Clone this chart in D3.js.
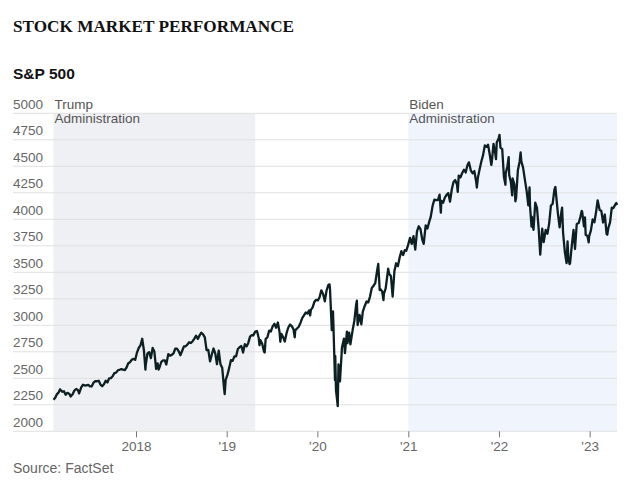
<!DOCTYPE html>
<html>
<head>
<meta charset="utf-8">
<script src="https://cdn.jsdelivr.net/npm/d3@7"></script>
<style>
  html, body { margin: 0; padding: 0; background: #fff; }
  svg { display: block; }
</style>
</head>
<body>
<svg id="chart" width="636" height="496"></svg>
<script>
const titleText = "STOCK MARKET PERFORMANCE";
const subtitleText = "S&P 500";
const sourceText = "Source: FactSet";

const yTicks = [2000, 2250, 2500, 2750, 3000, 3250, 3500, 3750, 4000, 4250, 4500, 4750, 5000];
const xTickDates = ["2018-01-01", "2019-01-01", "2020-01-01", "2021-01-01", "2022-01-01", "2023-01-01"];
const xTickLabels = ["2018", "'19", "'20", "'21", "'22", "'23"];

const periods = [
  { label: ["Trump", "Administration"], start: "2017-02-03", end: "2019-04-26", fill: "#eff0f3" },
  { label: ["Biden", "Administration"], start: "2021-01-01", end: "2023-04-21", fill: "#f0f5fd" }
];

const dates = [
"2017-02-03","2017-02-10","2017-02-17","2017-02-24","2017-03-01","2017-03-10","2017-03-17","2017-03-24","2017-03-31","2017-04-07","2017-04-13","2017-04-21","2017-04-28","2017-05-05","2017-05-12","2017-05-17","2017-05-26","2017-06-02","2017-06-09","2017-06-16","2017-06-23","2017-06-30","2017-07-07","2017-07-14","2017-07-21","2017-07-28","2017-08-04","2017-08-11","2017-08-18","2017-08-25","2017-09-01","2017-09-08","2017-09-15","2017-09-22","2017-09-29","2017-10-06","2017-10-13","2017-10-20","2017-10-27","2017-11-03","2017-11-10","2017-11-17","2017-11-24","2017-12-01","2017-12-08","2017-12-15","2017-12-22","2017-12-29",
"2018-01-05","2018-01-12","2018-01-19","2018-01-26","2018-02-02","2018-02-08","2018-02-09","2018-02-16","2018-02-23","2018-03-02","2018-03-09","2018-03-16","2018-03-23","2018-03-29","2018-04-02","2018-04-06","2018-04-13","2018-04-20","2018-04-27","2018-05-03","2018-05-11","2018-05-18","2018-05-25","2018-06-01","2018-06-08","2018-06-15","2018-06-22","2018-06-29","2018-07-06","2018-07-13","2018-07-20","2018-07-27","2018-08-03","2018-08-10","2018-08-17","2018-08-24","2018-08-31","2018-09-07","2018-09-14","2018-09-21","2018-09-28","2018-10-05","2018-10-12","2018-10-19","2018-10-26","2018-11-02","2018-11-09","2018-11-16","2018-11-23","2018-11-30","2018-12-07","2018-12-14","2018-12-21","2018-12-24","2018-12-28",
"2019-01-04","2019-01-11","2019-01-18","2019-01-25","2019-02-01","2019-02-08","2019-02-15","2019-02-22","2019-03-01","2019-03-08","2019-03-15","2019-03-22","2019-03-29","2019-04-05","2019-04-12","2019-04-18","2019-04-26","2019-05-03","2019-05-10","2019-05-13","2019-05-17","2019-05-24","2019-05-31","2019-06-03","2019-06-07","2019-06-14","2019-06-21","2019-06-28","2019-07-05","2019-07-12","2019-07-19","2019-07-26","2019-08-02","2019-08-05","2019-08-09","2019-08-16","2019-08-23","2019-08-30","2019-09-06","2019-09-13","2019-09-20","2019-09-27","2019-10-02","2019-10-04","2019-10-11","2019-10-18","2019-10-25","2019-11-01","2019-11-08","2019-11-15","2019-11-22","2019-11-29","2019-12-03","2019-12-06","2019-12-13","2019-12-20","2019-12-27",
"2020-01-03","2020-01-10","2020-01-17","2020-01-24","2020-01-31","2020-02-07","2020-02-14","2020-02-19","2020-02-21","2020-02-28","2020-03-04","2020-03-06","2020-03-12","2020-03-13","2020-03-16","2020-03-20","2020-03-23","2020-03-26","2020-04-01","2020-04-09","2020-04-17","2020-04-21","2020-04-29","2020-05-01","2020-05-08","2020-05-13","2020-05-22","2020-05-29","2020-06-05","2020-06-08","2020-06-11","2020-06-19","2020-06-26","2020-07-02","2020-07-10","2020-07-17","2020-07-24","2020-07-31","2020-08-07","2020-08-14","2020-08-21","2020-08-28","2020-09-02","2020-09-08","2020-09-11","2020-09-18","2020-09-23","2020-09-25","2020-10-02","2020-10-09","2020-10-12","2020-10-16","2020-10-23","2020-10-30","2020-11-06","2020-11-13","2020-11-20","2020-11-27","2020-12-04","2020-12-11","2020-12-18","2020-12-24","2020-12-31",
"2021-01-08","2021-01-15","2021-01-22","2021-01-29","2021-02-05","2021-02-12","2021-02-19","2021-02-26","2021-03-04","2021-03-12","2021-03-19","2021-03-26","2021-04-01","2021-04-09","2021-04-16","2021-04-23","2021-04-30","2021-05-07","2021-05-12","2021-05-14","2021-05-21","2021-05-28","2021-06-04","2021-06-11","2021-06-18","2021-06-25","2021-07-02","2021-07-09","2021-07-16","2021-07-19","2021-07-23","2021-07-30","2021-08-06","2021-08-13","2021-08-20","2021-08-27","2021-09-02","2021-09-10","2021-09-17","2021-09-24","2021-10-01","2021-10-04","2021-10-08","2021-10-15","2021-10-22","2021-10-29","2021-11-05","2021-11-12","2021-11-18","2021-11-26","2021-12-01","2021-12-03","2021-12-10","2021-12-17","2021-12-20","2021-12-23","2021-12-31",
"2022-01-03","2022-01-07","2022-01-14","2022-01-21","2022-01-27","2022-01-28","2022-02-04","2022-02-09","2022-02-11","2022-02-18","2022-02-23","2022-02-25","2022-03-04","2022-03-08","2022-03-11","2022-03-18","2022-03-25","2022-03-29","2022-04-01","2022-04-08","2022-04-14","2022-04-22","2022-04-29","2022-05-04","2022-05-06","2022-05-12","2022-05-13","2022-05-20","2022-05-27","2022-06-03","2022-06-10","2022-06-16","2022-06-24","2022-06-30","2022-07-08","2022-07-15","2022-07-22","2022-07-29","2022-08-05","2022-08-12","2022-08-16","2022-08-19","2022-08-26","2022-09-02","2022-09-09","2022-09-12","2022-09-16","2022-09-23","2022-09-30","2022-10-04","2022-10-07","2022-10-12","2022-10-14","2022-10-21","2022-10-28","2022-11-03","2022-11-10","2022-11-18","2022-11-25","2022-11-30","2022-12-02","2022-12-09","2022-12-13","2022-12-16","2022-12-23","2022-12-28","2022-12-30",
"2023-01-06","2023-01-13","2023-01-20","2023-01-27","2023-02-02","2023-02-10","2023-02-17","2023-02-24","2023-03-03","2023-03-10","2023-03-13","2023-03-17","2023-03-24","2023-03-31","2023-04-06","2023-04-14","2023-04-18","2023-04-21"
];

const values = [
2297,2316,2351,2367,2396,2373,2378,2344,2363,2355,2329,2349,2384,2399,2390,2357,2416,2439,2432,2433,2438,2423,2425,2459,2472,2472,2477,2441,2425,2443,2477,2461,2500,2502,2519,2549,2553,2575,2581,2587,2582,2578,2602,2642,2652,2675,2683,2674,
2743,2786,2810,2873,2762,2581,2620,2732,2747,2691,2786,2752,2588,2641,2582,2604,2656,2670,2670,2630,2728,2713,2721,2735,2779,2780,2755,2718,2760,2801,2802,2819,2840,2833,2850,2875,2902,2872,2905,2930,2914,2886,2767,2768,2659,2723,2781,2736,2633,2760,2633,2600,2417,2351,2486,
2532,2596,2671,2665,2707,2708,2776,2793,2804,2743,2822,2801,2834,2893,2907,2905,2940,2946,2881,2812,2860,2826,2752,2744,2873,2887,2950,2942,2990,3014,2977,3026,2932,2845,2919,2889,2847,2926,2979,3007,2992,2962,2887,2952,2970,2986,3023,3067,3093,3120,3110,3141,3093,3146,3169,3221,3240,
3235,3265,3330,3295,3226,3328,3380,3386,3338,2954,3130,2972,2481,2711,2386,2305,2237,2630,2471,2790,2875,2737,2940,2831,2930,2820,2955,3044,3194,3232,3002,3098,3009,3130,3185,3225,3216,3271,3351,3373,3397,3508,3580,3332,3341,3319,3237,3298,3348,3477,3534,3484,3465,3270,3509,3585,3558,3638,3699,3663,3709,3703,3756,
3825,3768,3841,3714,3887,3934,3907,3811,3768,3943,3913,3975,4020,4129,4185,4180,4181,4233,4063,4174,4156,4204,4230,4247,4166,4281,4352,4370,4327,4258,4412,4395,4437,4468,4442,4509,4537,4459,4433,4455,4357,4300,4391,4471,4545,4605,4697,4683,4704,4595,4513,4538,4712,4621,4568,4725,4766,
4797,4677,4663,4398,4326,4432,4501,4587,4419,4349,4226,4385,4329,4170,4204,4463,4543,4632,4546,4488,4393,4272,4132,4300,4123,3930,4024,3901,4158,4109,3901,3667,3912,3785,3899,3863,3962,4130,4145,4280,4305,4228,4058,3924,4067,4110,3873,3693,3586,3791,3640,3577,3583,3752,3901,3720,3956,3965,4026,4080,4071,3934,4019,3852,3845,3783,3840,
3895,3999,3972,4071,4179,4090,4079,3970,4045,3862,3855,3917,3971,4109,4105,4138,4154,4133
];

const parse = d3.timeParse("%Y-%m-%d");
const series = dates.map((d, i) => ({ date: parse(d), value: values[i] }));

const svg = d3.select("#chart");
const plotLeft = 53.5, plotRight = 617, plotTop = 113.3, plotBottom = 431.3, gridLeft = 13;

const x = d3.scaleTime()
  .domain(d3.extent(series, d => d.date))
  .range([plotLeft, plotRight]);
const y = d3.scaleLinear()
  .domain([2000, 5000])
  .range([plotBottom, plotTop]);

// Title & subtitle
svg.append("text")
  .attr("x", 13).attr("y", 32)
  .attr("font-family", "'Liberation Serif', 'Times New Roman', serif")
  .attr("font-weight", "bold").attr("font-size", 17.2)
  .attr("fill", "#111")
  .text(titleText);
svg.append("text")
  .attr("x", 13).attr("y", 79)
  .attr("font-family", "'Liberation Sans', Arial, sans-serif")
  .attr("font-weight", "bold").attr("font-size", 15.5)
  .attr("fill", "#111")
  .text(subtitleText);

// Period shading
svg.append("g").selectAll("rect").data(periods).join("rect")
  .attr("x", d => x(parse(d.start)))
  .attr("width", d => x(parse(d.end)) - x(parse(d.start)))
  .attr("y", plotTop)
  .attr("height", plotBottom - plotTop)
  .attr("fill", d => d.fill);

// Gridlines
svg.append("g").selectAll("line").data(yTicks).join("line")
  .attr("x1", gridLeft).attr("x2", plotRight)
  .attr("y1", d => y(d)).attr("y2", d => y(d))
  .attr("stroke", "#e0e0e0").attr("stroke-width", 1);

// Y labels (above gridlines)
svg.append("g").selectAll("text").data(yTicks).join("text")
  .attr("x", gridLeft).attr("y", d => y(d) - 4.5)
  .attr("font-family", "'Liberation Sans', Arial, sans-serif")
  .attr("font-size", 13.5).attr("fill", "#666")
  .text(d => d);

// Period labels
const pl = svg.append("g").selectAll("text").data(periods).join("text")
  .attr("x", d => x(parse(d.start)) + 1)
  .attr("y", 109)
  .attr("font-family", "'Liberation Sans', Arial, sans-serif")
  .attr("font-size", 13.5).attr("fill", "#555");
pl.selectAll("tspan").data(d => d.label.map(t => ({ t, px: x(parse(d.start)) + 1 }))).join("tspan")
  .attr("x", d => d.px)
  .attr("dy", (d, i) => i === 0 ? 0 : 14)
  .text(d => d.t);

// X axis
const xAxis = d3.axisBottom(x)
  .tickValues(xTickDates.map(parse))
  .tickFormat((d, i) => xTickLabels[i])
  .tickSize(6).tickPadding(4);
const gx = svg.append("g")
  .attr("transform", `translate(0,${plotBottom})`)
  .call(xAxis);
gx.select(".domain").remove();
gx.selectAll(".tick line").attr("stroke", "#777");
gx.selectAll(".tick text")
  .attr("font-family", "'Liberation Sans', Arial, sans-serif")
  .attr("font-size", 13.5).attr("fill", "#666");

// Line
const line = d3.line()
  .x(d => x(d.date))
  .y(d => y(d.value));
svg.append("path")
  .datum(series)
  .attr("d", line)
  .attr("fill", "none")
  .attr("stroke", "#0c1f22")
  .attr("stroke-width", 2.3)
  .attr("stroke-linejoin", "round");

// Source
svg.append("text")
  .attr("x", 13).attr("y", 472.5)
  .attr("font-family", "'Liberation Sans', Arial, sans-serif")
  .attr("font-size", 14).attr("fill", "#666")
  .text(sourceText);
</script>
</body>
</html>
